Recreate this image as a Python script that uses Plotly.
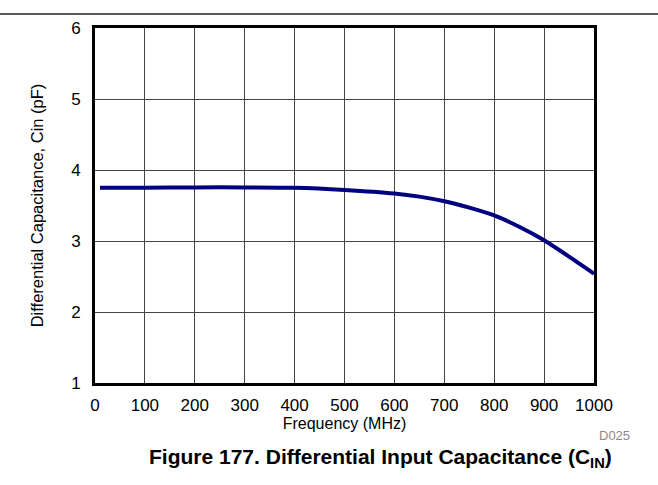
import plotly.graph_objects as go

# Measured differential input capacitance versus frequency
freq_mhz = [10, 100, 200, 300, 400, 500, 600, 650, 700, 750, 800, 850, 900, 950, 1000]
cin_pf = [3.75, 3.75, 3.755, 3.755, 3.75, 3.72, 3.67, 3.625, 3.56, 3.47, 3.36, 3.20, 3.01, 2.78, 2.54]

x_ticks = [0, 100, 200, 300, 400, 500, 600, 700, 800, 900, 1000]
y_ticks = [1, 2, 3, 4, 5, 6]

FONT = "Liberation Sans, Arial, sans-serif"

fig = go.Figure()
fig.add_trace(go.Scatter(
    x=freq_mhz, y=cin_pf, mode="lines",
    line=dict(color="#000080", width=4, shape="spline", smoothing=0.6),
    showlegend=False, hoverinfo="skip",
))

axis_common = dict(
    showline=True, linecolor="black", linewidth=3, mirror=True,
    showgrid=True, gridcolor="#444444", gridwidth=1,
    zeroline=False, ticks="outside", tickcolor="rgba(0,0,0,0)",
    tickfont=dict(family=FONT, size=17, color="black"),
)

fig.update_xaxes(
    range=[0, 1000], tickvals=x_ticks, ticklen=5,
    title=dict(text="Frequency (MHz)", font=dict(family=FONT, size=16, color="black"), standoff=0),
    **axis_common,
)
fig.update_yaxes(
    range=[1, 6], tickvals=y_ticks, ticklen=8,
    title=dict(text="Differential Capacitance, Cin (pF)", font=dict(family=FONT, size=16.5, color="black"), standoff=24),
    **axis_common,
)

fig.update_layout(
    width=658, height=485,
    margin=dict(l=95, r=64, t=28, b=102),
    paper_bgcolor="white", plot_bgcolor="white",
    font=dict(family=FONT, color="black"),
    shapes=[dict(type="line", xref="paper", yref="paper",
                 x0=-95 / 499, x1=(658 - 95) / 499,
                 y0=1 + 14 / 355, y1=1 + 14 / 355,
                 line=dict(color="#222222", width=1.5))],
    annotations=[
        dict(text="D025", xref="paper", yref="paper", x=(614 - 95) / 499, y=-(435 - 383) / 355,
             showarrow=False, xanchor="center", yanchor="middle",
             font=dict(family=FONT, size=13, color="#888888")),
        dict(text="<b>Figure 177. Differential Input Capacitance (C<sub>IN</sub>)</b>",
             xref="paper", yref="paper", x=(380 - 95) / 499, y=-(458 - 383) / 355,
             showarrow=False, xanchor="center", yanchor="middle",
             font=dict(family=FONT, size=21, color="black")),
    ],
)

fig.write_html("out.html")
